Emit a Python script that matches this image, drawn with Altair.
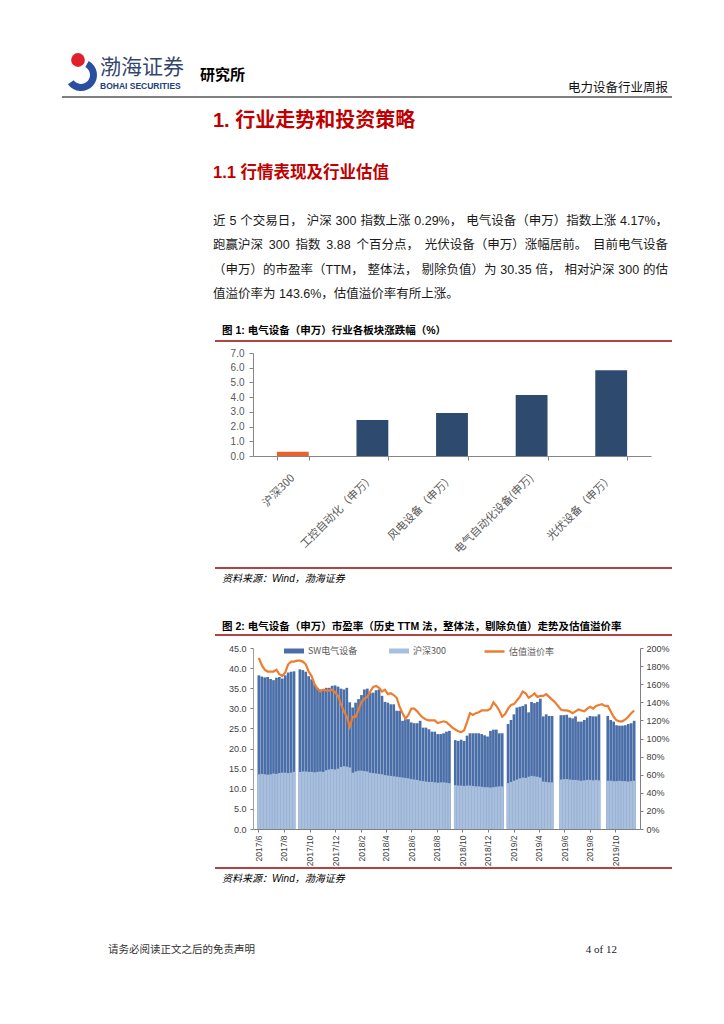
import re
import altair as alt
import pandas as pd

CJK = "Noto Sans CJK SC"
MIX = "Liberation Sans, Noto Sans CJK SC"
SERIF = "Liberation Serif, Noto Sans CJK SC"

# ---------------- Figure 1 data ----------------
fig1_categories = ["沪深300", "工控自动化（申万）", "风电设备（申万）", "电气自动化设备(申万)", "光伏设备（申万）"]
fig1_values = [0.29, 2.45, 2.93, 4.15, 5.83]
fig1_highlight = "沪深300"
fig1_yticks = [0, 1, 2, 3, 4, 5, 6, 7]

# ---------------- Figure 2 data (weekly) ----------------
fig2_first_week = "2017-06-02"
fig2_sw_pe = [
    38.2, 37.9, 37.7, 37.8, 37.3, 37.0, 37.6, 37.8, 37.4, 38.2,
    38.9, 39.1, 39.2, None, 39.7, 39.5, 39.1, 38.0, 37.2, 36.0,
    35.1, 34.7, 34.7, 35.1, 35.1, 35.6, 35.7, 35.4, 34.9, 34.7,
    35.1, 31.5, 30.2, 31.4, 32.3, 33.3, 34.7, 34.9, 33.9, 33.9,
    34.5, 34.7, 33.1, 31.6, 31.4, 31.0, 31.0, 29.4, 29.4, 26.9,
    27.3, 27.3, 26.5, 26.3, 26.3, 26.9, 25.2, 25.2, 24.8, 24.2,
    24.2, 23.6, 23.6, 23.8, 24.2, 24.4, None, 22.1, 21.9, 22.2,
    21.9, 23.2, 23.8, 23.8, 23.8, 23.8, 23.6, 23.3, 23.0, 24.4,
    24.7, 24.7, 23.8, 23.8, None, 26.1, 27.1, 28.5, 30.2, 30.4,
    30.6, 31.0, 29.0, 31.6, 31.3, 31.6, 32.4, 28.0, 28.5, 28.1,
    28.1, None, None, 28.3, 28.3, 28.4, 27.7, 27.5, 28.0, 26.7,
    26.7, 27.1, 27.7, 28.1, 28.0, 28.0, 28.5, None, None, 28.1,
    27.1, 26.7, 25.8, 25.7, 25.7, 25.8, 26.1, 26.3, 26.9,
]
fig2_hs300_pe = [
    13.6, 13.7, 13.6, 13.5, 13.6, 13.8, 13.7, 13.9, 14.0, 14.0,
    13.9, 14.0, 14.2, None, 14.2, 14.3, 14.3, 14.2, 14.2, 14.1,
    14.2, 14.3, 14.2, 14.6, 14.8, 14.9, 14.8, 15.0, 15.4, 15.6,
    15.5, 15.3, 14.0, 14.3, 14.5, 14.5, 14.4, 14.3, 14.0, 13.9,
    13.8, 13.7, 13.6, 13.4, 13.3, 13.2, 13.1, 13.0, 12.9, 12.8,
    12.7, 12.6, 12.4, 12.3, 12.2, 12.0, 11.9, 11.8, 11.7, 11.7,
    11.6, 11.5, 11.6, 11.6, 11.5, 11.4, None, 10.9, 10.8, 10.8,
    10.7, 10.8, 10.8, 10.7, 10.6, 10.6, 10.5, 10.4, 10.4, 10.3,
    10.4, 10.5, 10.6, 10.6, None, 11.4, 11.7, 12.0, 12.3, 12.6,
    12.8, 12.7, 13.0, 13.2, 13.1, 13.0, 12.8, 11.8, 11.7, 11.6,
    11.6, None, None, 12.3, 12.4, 12.4, 12.3, 12.2, 12.2, 12.1,
    12.0, 12.1, 12.2, 12.2, 12.1, 12.2, 12.1, None, None, 12.0,
    12.0, 11.9, 11.9, 12.0, 11.9, 11.9, 11.8, 11.9, 12.0,
]
fig2_premium_pct = [
    189, 181, 176, 174, 174, 174, 176, 171, 169, 173,
    182, 185, 185, 186, 186, 185, 182, 174, 169, 160,
    155, 152, 154, 153, 153, 154, 151, 147, 138, 130,
    124, 113, 124, 124, 132, 140, 144, 146, 152, 157,
    158, 156, 152, 154, 149, 150, 148, 145, 135, 128,
    122, 126, 133, 133, 130, 126, 123, 121, 120, 120,
    120, 117, 118, 119, 118, 115, 112, 110, 108, 107,
    109, 118, 128, 126, 128, 129, 131, 131, 131, 133,
    140, 136, 131, 124, 127, 133, 137, 138, 142, 146,
    152, 150, 145, 147, 150, 146, 147, 147, 149, 146,
    143, 140, 136, 132, 131, 131, 130, 128, 130, 132,
    131, 130, 133, 135, 133, 136, 137, 138, 136, 136,
    130, 124, 120, 119, 119, 121, 124, 128, 131,
]
fig2_tick_months = ["2017-06", "2017-08", "2017-10", "2017-12", "2018-02", "2018-04",
                    "2018-06", "2018-08", "2018-10", "2018-12", "2019-02", "2019-04",
                    "2019-06", "2019-08", "2019-10"]
fig2_left_ticks = [0, 5, 10, 15, 20, 25, 30, 35, 40, 45]
fig2_right_ticks = [0, 20, 40, 60, 80, 100, 120, 140, 160, 180, 200]
fig2_series = ["SW电气设备", "沪深300", "估值溢价率"]

# ---------------- page text ----------------
txt_brand_cn = "渤海证券"
txt_brand_en = "BOHAI SECURITIES"
txt_institute = "研究所"
txt_report = "电力设备行业周报"
txt_h1 = "1. 行业走势和投资策略"
txt_h2 = "1.1 行情表现及行业估值"
txt_para = [
    "近 5 个交易日，沪深 300 指数上涨 0.29%，电气设备（申万）指数上涨 4.17%，",
    "跑赢沪深 300 指数 3.88 个百分点，光伏设备（申万）涨幅居前。目前电气设备",
    "（申万）的市盈率（TTM，整体法，剔除负值）为 30.35 倍，相对沪深 300 的估",
    "值溢价率为 143.6%，估值溢价率有所上涨。",
]
txt_fig1 = "图 1:  电气设备（申万）行业各板块涨跌幅（%）"
txt_fig2 = "图 2:  电气设备（申万）市盈率（历史 TTM 法，整体法，剔除负值）走势及估值溢价率"
txt_source = "资料来源：Wind，渤海证券"
txt_disclaimer = "请务必阅读正文之后的免责声明"
txt_page = "4 of 12"

# ---------------- helpers ----------------
ONE = pd.DataFrame({"a": [0]})


def text(t, x, y, size, color="#000000", weight="normal", align="left", font=MIX, style="normal"):
    return alt.Chart(ONE).mark_text(
        text=t, fontSize=size, color=color, fontWeight=weight, align=align,
        baseline="middle", font=font, fontStyle=style,
    ).encode(x=alt.value(x), y=alt.value(y))


def hline(x1, x2, y, color, width):
    return alt.Chart(ONE).mark_rule(color=color, strokeWidth=width).encode(
        x=alt.value(x1), x2=alt.value(x2), y=alt.value(y))


EM = {".": 0.278, "%": 0.889, "T": 0.611, "M": 0.833}


def est_width(s, size):
    w = 0.0
    for ch in s:
        if ord(ch) > 0x2E80:
            w += 1.0
        elif ch.isdigit():
            w += 0.556
        else:
            w += EM.get(ch, 0.6)
    return w * size


def justified(line, x0, x1, y, size, color, last=False):
    # break at spaces and after full-width comma / period, spread the slack over those breaks
    chunks = [c for c in re.split(r" |(?<=[，。])", line) if c]
    if last or len(chunks) == 1:
        return [text(line, x0, y, size, color=color)]
    widths = [est_width(c, size) for c in chunks]
    gap = (x1 - x0 - sum(widths)) / (len(chunks) - 1)
    layers, x = [], x0
    for i, c in enumerate(chunks):
        if i == len(chunks) - 1:
            layers.append(text(c, x1, y, size, color=color, align="right"))
        else:
            layers.append(text(c, x, y, size, color=color))
        x += widths[i] + gap
    return layers


TITLE_RED = "#c00000"
RULE_RED = "#b04444"

# ---------------- Figure 1 (also carries the page header) ----------------
df1 = pd.DataFrame({"cat": fig1_categories, "val": fig1_values})

bars1 = alt.Chart(df1).mark_bar().encode(
    x=alt.X("cat:N", sort=fig1_categories,
            scale=alt.Scale(paddingInner=0.6, paddingOuter=0.3),
            axis=alt.Axis(title=None, labelAngle=315, labelAlign="right", labelBaseline="middle",
                          labelPadding=16, labelFontSize=11, labelColor="#595959", labelFont=CJK,
                          labelOverlap=False, labelLimit=300, tickBand="extent", tickSize=4,
                          tickColor="#868686", domainColor="#868686")),
    y=alt.Y("val:Q", scale=alt.Scale(domain=[0, 7]),
            axis=alt.Axis(title=None, values=fig1_yticks, format=".1f", grid=False, labelOverlap=False,
                          labelFontSize=10, labelColor="#595959", labelFont="Liberation Sans",
                          tickSize=4, labelPadding=5, tickColor="#868686", domainColor="#868686")),
    color=alt.condition(alt.datum.cat == fig1_highlight, alt.value("#e8622a"), alt.value("#2e4b6f")),
)

anchor = alt.Chart(ONE).mark_rule(opacity=0, strokeWidth=1).encode(
    x=alt.value(-245), x2=alt.value(-244), y=alt.value(-345), y2=alt.value(-345))

logo_red = alt.Chart(ONE).mark_point(filled=True, size=190, color="#e0202a", opacity=1).encode(
    x=alt.value(-175), y=alt.value(-293))
logo_blue = alt.Chart(ONE).mark_arc(theta=0.5, theta2=4.1, radius=16, radius2=9, color="#2b4fa0").encode(
    x=alt.value(-172), y=alt.value(-278))

fig1_layers = [
    anchor, logo_blue, logo_red,
    text(txt_brand_cn, -153, -285, 21, color="#34466e", font=CJK),
    text(txt_brand_en, -153, -267, 8.5, color="#23407a", weight="bold", font="Liberation Sans"),
    text(txt_institute, -53, -278, 15, weight="bold", font=CJK),
    text(txt_report, 415, -265, 12.5, color="#111111", align="right", font=CJK),
    hline(-191, 419, -256, "#7f7f7f", 2),
    text(txt_h1, -40, -232, 20, color=TITLE_RED, weight="bold"),
    text(txt_h2, -40, -180.5, 16.5, color=TITLE_RED, weight="bold"),
]
for i, ln in enumerate(txt_para):
    fig1_layers += justified(ln, -40, 415, -132 + i * 24.4, 12.5, "#1a1a1a", last=(i == len(txt_para) - 1))
fig1_layers += [
    text(txt_fig1, -31, -22, 10.5, weight="bold"),
    hline(-38, 419, -12, RULE_RED, 2),
    hline(-38, 419, 215, RULE_RED, 2),
    text(txt_source, -31, 226, 10, style="italic"),
    bars1,
]
fig1 = alt.layer(*fig1_layers).properties(width=398, height=103)

# ---------------- Figure 2 ----------------
dates = pd.date_range(fig2_first_week, periods=len(fig2_sw_pe), freq="7D").strftime("%Y-%m-%d")
df2 = pd.DataFrame({"date": list(dates), "sw": fig2_sw_pe, "hs": fig2_hs300_pe, "prem": fig2_premium_pct})

tick_vals = [alt.DateTime(year=int(m[:4]), month=int(m[5:]), date=1, utc=True) for m in fig2_tick_months]
xenc = alt.X("date:T",
             scale=alt.Scale(type="utc", domain=[alt.DateTime(year=2017, month=5, date=31, utc=True),
                                                 alt.DateTime(year=2019, month=11, date=17, utc=True)]),
             axis=alt.Axis(title=None, values=tick_vals, format="%Y/%-m", labelAngle=270,
                           labelFontSize=8.5, labelColor="#404040", labelFont="Liberation Sans",
                           tickSize=3, tickColor="#808080", domainColor="#808080", labelPadding=3,
                           grid=False, labelOverlap=False))

legend_common = dict(orient="none", title=None, padding=0, labelFontSize=9, labelColor="#595959",
                     labelFont=CJK, labelOffset=3, symbolSize=400)
rect_path = "M-1,-0.25H1V0.25H-1Z"

left_axis = alt.Axis(title=None, values=fig2_left_ticks, format=".1f", grid=False, labelOverlap=False,
                     labelFontSize=9, labelColor="#404040", labelFont="Liberation Sans",
                     tickSize=3, labelPadding=4, tickColor="#808080", domainColor="#a0a0a0")
left_scale = alt.Scale(domain=[0, 45])

dark = alt.Chart(df2).transform_filter("isValid(datum.sw)").transform_calculate(
    k=f"'{fig2_series[0]}'").mark_bar(size=2.7).encode(
    x=xenc, y=alt.Y("sw:Q", scale=left_scale, axis=left_axis),
    color=alt.Color("k:N", scale=alt.Scale(domain=[fig2_series[0]], range=["#4a6ea8"]),
                    legend=alt.Legend(legendX=30, legendY=-8, symbolType=rect_path, **legend_common)),
)
light = alt.Chart(df2).transform_filter("isValid(datum.hs)").transform_calculate(
    k2=f"'{fig2_series[1]}'").mark_bar(size=2.7).encode(
    x=xenc, y=alt.Y("hs:Q", scale=left_scale, axis=left_axis),
    fill=alt.Fill("k2:N", scale=alt.Scale(domain=[fig2_series[1]], range=["#a8bfdd"]),
                  legend=alt.Legend(legendX=135, legendY=-8, symbolType=rect_path, **legend_common)),
)
line = alt.Chart(df2).transform_calculate(k3=f"'{fig2_series[2]}'").mark_line(strokeWidth=2.2).encode(
    x=xenc,
    y=alt.Y("prem:Q", scale=alt.Scale(domain=[0, 200]),
            axis=alt.Axis(title=None, orient="right", values=fig2_right_ticks, labelExpr="datum.value + '%'",
                          grid=False, labelOverlap=False, labelFontSize=9, labelColor="#404040",
                          labelFont="Liberation Sans", tickSize=3, labelPadding=3,
                          tickColor="#808080", domainColor="#808080")),
    stroke=alt.Stroke("k3:N", scale=alt.Scale(domain=[fig2_series[2]], range=["#ed7d31"]),
                      legend=alt.Legend(legendX=230, legendY=-8, symbolType="stroke",
                                        symbolStrokeWidth=2.5, **legend_common)),
)

bars2 = alt.layer(dark, light)
fig2 = alt.layer(
    bars2, line,
    text(txt_fig2, -31, -21, 10.5, weight="bold"),
    hline(-38, 419, -13, RULE_RED, 2),
    hline(-38, 419, 220, RULE_RED, 2),
    text(txt_source, -31, 231, 10, style="italic"),
    text(txt_disclaimer, -145, 302, 10.5, color="#333333", font=CJK),
    text(txt_page, 364, 302, 11, color="#222222", align="right", font=SERIF),
).resolve_scale(y="independent").properties(width=387, height=181)

chart = (
    alt.vconcat(fig1, fig2, spacing=192, bounds="flush")
    .resolve_scale(color="independent", fill="independent", stroke="independent")
    .resolve_legend(color="independent", fill="independent", stroke="independent")
    .properties(padding=0)
    .configure_view(stroke=None)
)

chart.save("out.html", embed_options={"renderer": "svg", "actions": False})
